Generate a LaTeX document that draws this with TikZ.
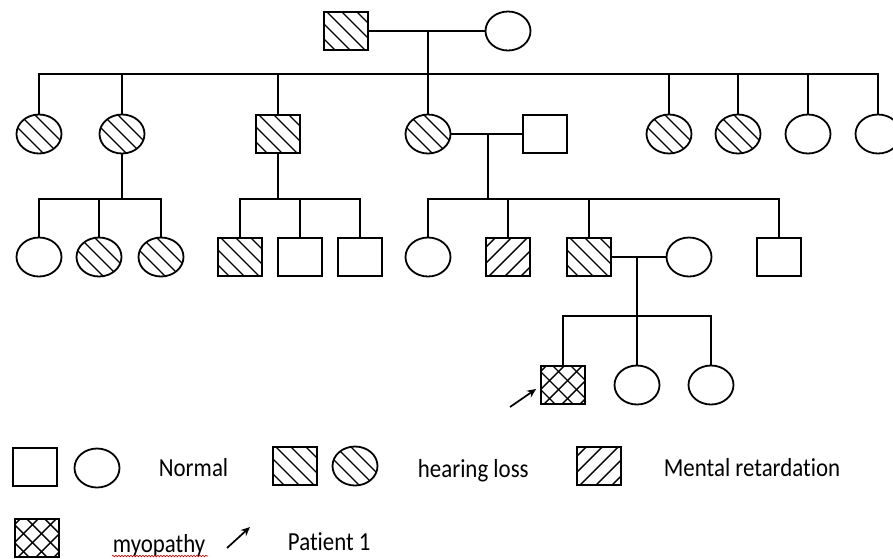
\documentclass[tikz,border=0pt]{standalone}
\usepackage{fontspec}
\setmainfont{Carlito}[Ligatures=NoCommon]
\newfontfamily\lblfont{Carlito}[FakeStretch=0.88, Ligatures=NoCommon]
\usetikzlibrary{shapes.geometric,arrows.meta,decorations.pathmorphing}
\tikzset{
  sq/.style={draw, rectangle, minimum width=44pt, minimum height=38pt, inner sep=0pt},
  el/.style={draw, ellipse, minimum width=45pt, minimum height=39pt, inner sep=0pt},
  hl/.style={path picture={\foreach \k in {-4,...,4}{\draw[line width=1.4pt] ([xshift=\k*15pt]path picture bounding box.center) ++(-30pt,30pt) -- ++(60pt,-60pt);}}},
  mr/.style={path picture={\foreach \k in {-4,...,4}{\draw[line width=1.4pt] ([xshift=\k*16pt]path picture bounding box.center) ++(-30pt,-30pt) -- ++(60pt,60pt);}}},
  myo/.style={path picture={\foreach \k in {-4,...,4}{\draw[line width=1.4pt] ([xshift=\k*18pt]path picture bounding box.center) ++(-30pt,-30pt) -- ++(60pt,60pt); \draw[line width=1.4pt] ([xshift=\k*18pt+9pt]path picture bounding box.center) ++(-30pt,30pt) -- ++(60pt,-60pt);}}},
  lbl/.style={anchor=base west, inner sep=0pt, font=\lblfont\fontsize{26}{28}\selectfont},
  tip/.style={-{Stealth[length=9pt,width=8pt]}, line width=1.7pt}
}
\begin{document}
\begin{tikzpicture}[x=1pt, y=-1pt, line width=1.8pt]
\useasboundingbox (0,0) rectangle (893,558);
% Generation I
\node[sq,hl] (m1) at (346,31) {};
\node[el] (f1) at (508,31) {};
\coordinate (s1) at (428,74);
\draw (m1.east) -- (f1.west);
\draw (s1 |- m1.east) -- (s1);
% Generation II
\node[el,hl] (a1) at (39,134) {};
\node[el,hl] (a2) at (122,134) {};
\node[sq,hl] (a3) at (278,134) {};
\node[el,hl] (a4) at (428,134) {};
\node[sq] (a4s) at (545,134) {};
\node[el,hl] (a5) at (669,134) {};
\node[el,hl] (a6) at (738,134) {};
\node[el] (a7) at (808,134) {};
\node[el] (a8) at (878,134) {};
\draw (a1.north) -- (a1.north |- s1) -- (a8.north |- s1) -- (a8.north);
\foreach \n in {a2,a3,a4,a5,a6,a7} \draw (\n.north) -- (\n.north |- s1);
\draw (a4.east) -- (a4s.west);
% Generation III
\coordinate (s2) at (122,199);
\coordinate (s3) at (278,199);
\coordinate (s4) at (488,199);
\node[el] (b1) at (39,257) {};
\node[el,hl] (b2) at (99,257) {};
\node[el,hl] (b3) at (161,257) {};
\node[sq,hl] (b4) at (240,257) {};
\node[sq] (b5) at (300,257) {};
\node[sq] (b6) at (360,257) {};
\node[el] (b7) at (428,257) {};
\node[sq,mr] (b8) at (508,257) {};
\node[sq,hl] (b9) at (589,257) {};
\node[el] (b9s) at (689,257) {};
\node[sq] (b10) at (779,257) {};
\draw (a2.south) -- (s2);
\draw (b1.north) -- (b1.north |- s2) -- (b3.north |- s2) -- (b3.north);
\draw (b2.north) -- (b2.north |- s2);
\draw (a3.south) -- (s3);
\draw (b4.north) -- (b4.north |- s3) -- (b6.north |- s3) -- (b6.north);
\draw (b5.north) -- (b5.north |- s3);
\draw (s4 |- a4.east) -- (s4);
\draw (b7.north) -- (b7.north |- s4) -- (b10.north |- s4) -- (b10.north);
\foreach \n in {b8,b9} \draw (\n.north) -- (\n.north |- s4);
\draw (b9.east) -- (b9s.west);
% Generation IV
\coordinate (s5) at (637,316);
\node[sq,myo] (c1) at (563,385) {};
\node[el] (c2) at (637,385) {};
\node[el] (c3) at (711,385) {};
\draw (s5 |- b9.east) -- (s5);
\draw (c1.north) -- (c1.north |- s5) -- (c3.north |- s5) -- (c3.north);
\draw (c2.north) -- (c2.north |- s5);
\coordinate (ar0) at (510,407);
\draw[tip] (ar0) -- ([xshift=-4pt,yshift=-4pt]c1.west);
% Legend
\node[sq] (L1) at (35,467) {};
\node[el] (L2) at (97,468) {};
\node[lbl] (t1) at (158,476) {Normal};
\node[sq,hl] (L3) at (295,466) {};
\node[el,hl] (L4) at (355,466) {};
\node[lbl] (t2) at (417,477) {hearing loss};
\node[sq,mr] (L5) at (599,466) {};
\node[lbl] (t3) at (663,476) {Mental retardation};
\node[sq,myo] (L6) at (37,538) {};
\node[lbl] (t4) at (112,552) {myopathy};
\coordinate (la0) at (227,548);
\coordinate (la1) at (250,527);
\draw[tip] (la0) -- (la1);
\node[lbl] (t5) at (287,550) {Patient 1};
\draw[red!80!black, line width=0.6pt, decorate, decoration={snake, amplitude=0.8pt, segment length=3pt}] (t4.base west) ++(0,4) -- ++(96,0);
\end{tikzpicture}
\end{document}
